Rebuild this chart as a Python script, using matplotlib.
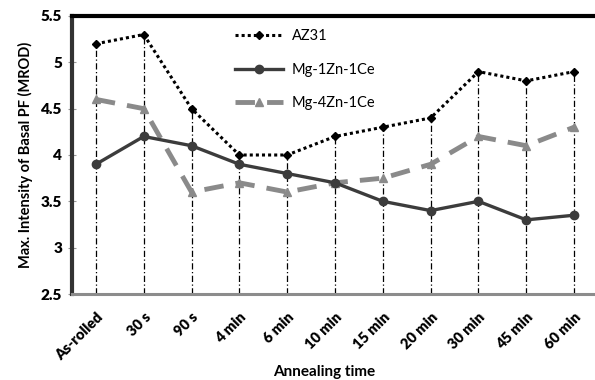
import matplotlib.pyplot as plt
import numpy as np

# annealing steps and max basal pole figure intensity (MROD)
labels = ["As-rolled", "30 s", "90 s", "4 min", "6 min", "10 min",
          "15 min", "20 min", "30 min", "45 min", "60 min"]
az31 = [5.2, 5.3, 4.5, 4.0, 4.0, 4.2, 4.3, 4.4, 4.9, 4.8, 4.9]
mg1zn = [3.9, 4.2, 4.1, 3.9, 3.8, 3.7, 3.5, 3.4, 3.5, 3.3, 3.35]
mg4zn = [4.6, 4.5, 3.6, 3.7, 3.6, 3.7, 3.75, 3.9, 4.2, 4.1, 4.3]

plt.rcParams['font.family'] = ['Lato', 'DejaVu Sans']

fig = plt.figure(figsize=(5.95, 3.8), dpi=100)
ax = fig.add_axes([72 / 595, 86 / 380, 526 / 595, 278 / 380])

x = np.arange(len(labels))

# drop lines from the highest point down to the axis
tops = np.maximum(np.maximum(az31, mg1zn), mg4zn)
ax.vlines(x, 2.5, tops, colors="black", linestyles=(0, (5, 2, 1, 2)), linewidth=0.9, zorder=1)

ax.plot(x, az31, color="black", linestyle=(0, (1, 1)), linewidth=2.2,
        marker="D", markersize=4.5, label="AZ31", zorder=4)
ax.plot(x, mg1zn, color="#3c3c3c", linestyle="-", linewidth=2.4,
        marker="o", markersize=6, label="Mg-1Zn-1Ce", zorder=3)
ax.plot(x, mg4zn, color="#8a8a8a", linestyle=(0, (4, 2.5)), linewidth=3.5,
        marker="^", markersize=6, label="Mg-4Zn-1Ce", zorder=2)

ax.set_xlim(-0.5, 10.5)
ax.set_ylim(2.5, 5.5)
ax.set_yticks([2.5, 3, 3.5, 4, 4.5, 5, 5.5])
ax.set_yticklabels(["2.5", "3", "3.5", "4", "4.5", "5", "5.5"], fontweight="heavy", fontsize=11)
ax.set_xticks(x)
ax.set_xticklabels(labels, rotation=45, ha="right", rotation_mode="anchor",
                   fontweight="heavy", fontsize=10.5)
ax.tick_params(axis="x", length=0, pad=12)
ax.tick_params(axis="y", direction="inout", length=6, width=0.8, color="#999999", pad=4)

ax.spines["right"].set_visible(False)
ax.spines["top"].set_linewidth(3)
ax.spines["top"].set_color("black")
ax.spines["left"].set_linewidth(3)
ax.spines["left"].set_color("#333333")
ax.spines["bottom"].set_linewidth(2.2)
ax.spines["bottom"].set_color("#8c8c8c")

ax.set_ylabel("Max. Intensity of Basal PF (MROD)", fontweight="bold", fontsize=10.5, labelpad=6)
ax.set_xlabel("Annealing time", fontweight="bold", fontsize=11, va="center")
ax.xaxis.set_label_coords(0.48, -0.282)

ax.legend(loc="upper left", bbox_to_anchor=(0.285, 1.0), frameon=False,
          fontsize=10.5, handlelength=3.3, labelspacing=1.35, handletextpad=0.6)

fig.savefig("out.png", dpi=100)
